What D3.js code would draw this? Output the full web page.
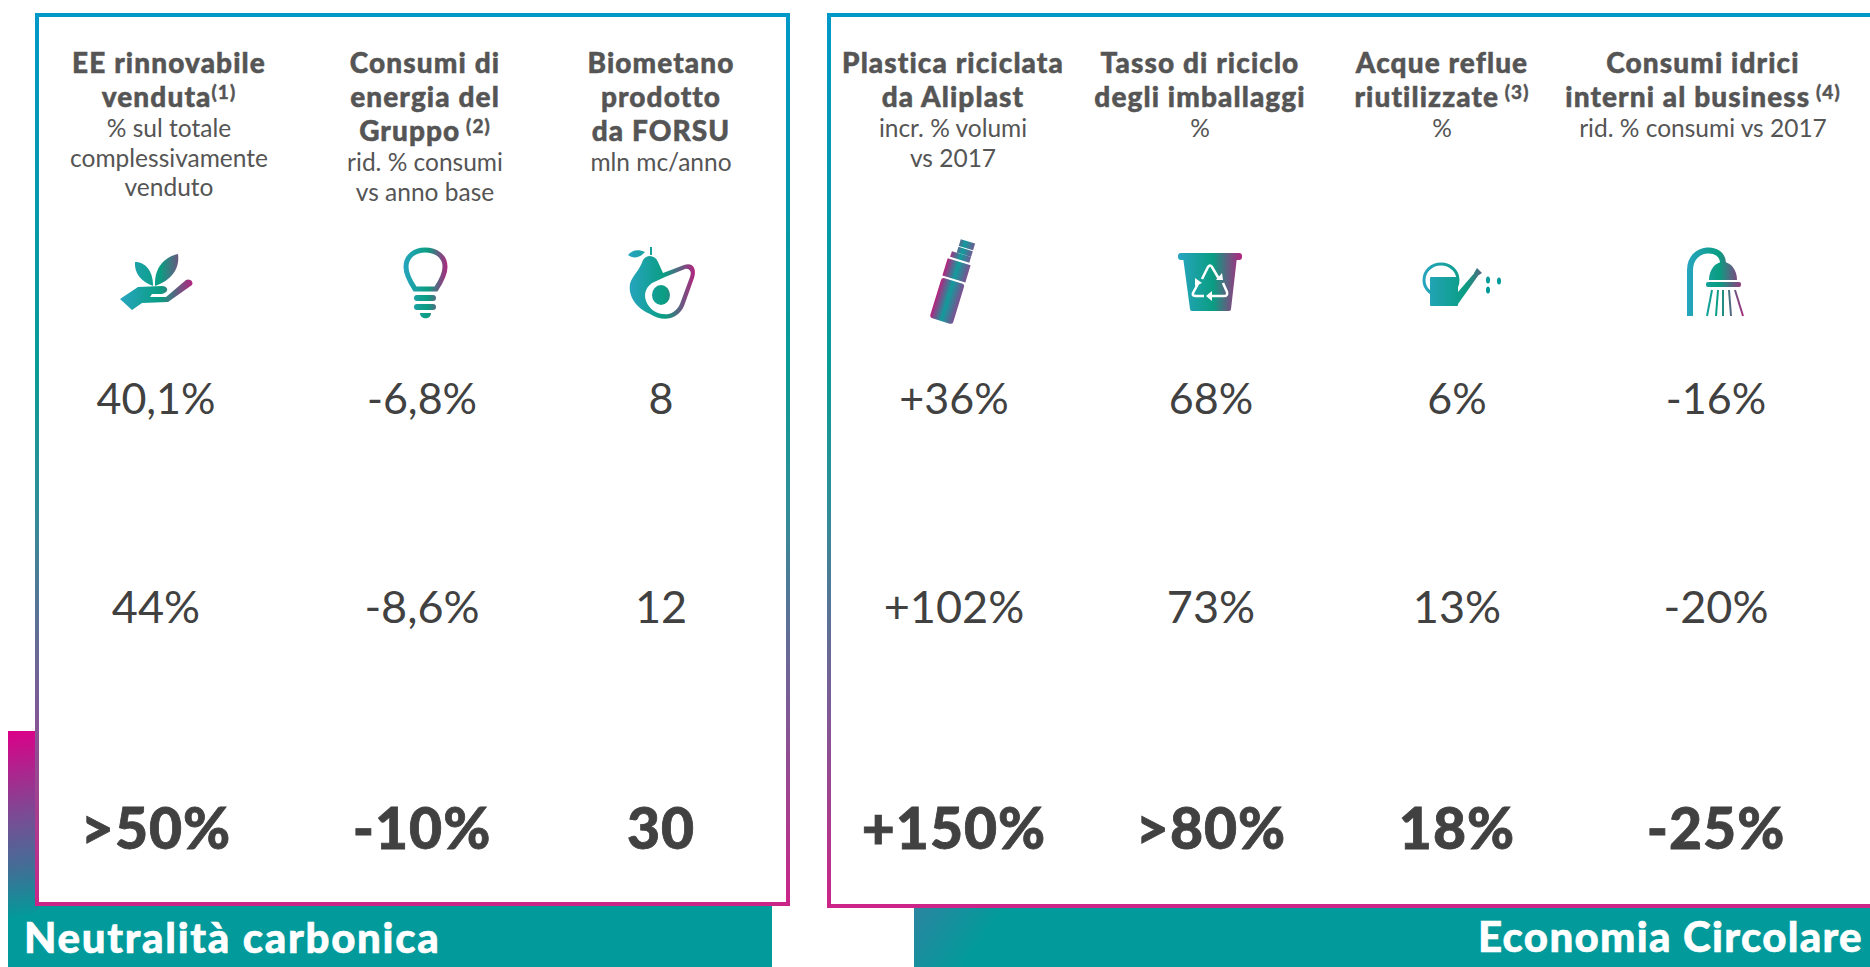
<!DOCTYPE html>
<html>
<head>
<meta charset="utf-8">
<script src="https://cdn.jsdelivr.net/npm/d3@7"></script>
<style>
body { margin: 0; background: #fff; }
text { font-family: Lato, sans-serif; }
</style>
</head>
<body>
<script>
// ---- data
const leftCols = ["rinnovabile", "consumi", "biometano"];
const leftTitles = [["EE rinnovabile", "venduta"], ["Consumi di", "energia del", "Gruppo"], ["Biometano", "prodotto", "da FORSU"]];
const leftNotes = ["(1)", " (2)", ""];
const leftUnits = [["% sul totale", "complessivamente", "venduto"], ["rid. % consumi", "vs anno base"], ["mln mc/anno"]];
const leftRow1 = ["40,1%", "-6,8%", "8"];
const leftRow2 = ["44%", "-8,6%", "12"];
const leftTarget = [">50%", "-10%", "30"];

const rightCols = ["plastica", "imballaggi", "reflue", "idrici"];
const rightTitles = [["Plastica riciclata", "da Aliplast"], ["Tasso di riciclo", "degli imballaggi"], ["Acque reflue", "riutilizzate"], ["Consumi idrici", "interni al business"]];
const rightNotes = ["", "", " (3)", " (4)"];
const rightUnits = [["incr. % volumi", "vs 2017"], ["%"], ["%"], ["rid. % consumi vs 2017"]];
const rightRow1 = ["+36%", "68%", "6%", "-16%"];
const rightRow2 = ["+102%", "73%", "13%", "-20%"];
const rightTarget = ["+150%", ">80%", "18%", "-25%"];

const leftName = "Neutralità carbonica";
const rightName = "Economia Circolare";

const width = 1870, height = 967;
const textColor = "#555", valueColor = "#414141", teal = "#029a9a";

let svg = d3.select("body").append("svg")
    .attr("width", width)
    .attr("height", height)
    .style("display", "block");
let defs = svg.append("defs");

function gradient(id, attrs, stops) {
    let g = defs.append("linearGradient").attr("id", id).attr("gradientUnits", "userSpaceOnUse");
    Object.entries(attrs).forEach(([k, v]) => g.attr(k, v));
    stops.forEach(s => g.append("stop").attr("offset", s[0]).attr("stop-color", s[1]));
}

gradient("border", {x1: 0, x2: 0, y1: 13, y2: 906}, [[0, "#0098c8"], [.4, "#0a9c96"], [.55, "#2f8f98"], [.78, "#7e5a95"], [1, "#cc2488"]]);
gradient("block", {x1: 8, x2: 36, y1: 731, y2: 915}, [[0, "#dc0088"], [.45, "#7c4a94"], [.75, "#3f7096"], [1, teal]]);
gradient("bandStart", {x1: 914, x2: 975, y1: 907, y2: 950}, [[0, "#2b85a0"], [1, teal]]);

// bands behind the panels
svg.append("rect").attr("x", 8).attr("y", 731).attr("width", 36).attr("height", 236).attr("fill", "url(#block)");
svg.append("rect").attr("x", 8).attr("y", 904).attr("width", 764).attr("height", 63).attr("fill", teal);
svg.append("rect").attr("x", 8).attr("y", 904).attr("width", 30).attr("height", 63).attr("fill", "url(#block)");
svg.append("rect").attr("x", 914).attr("y", 907).attr("width", 956).attr("height", 60).attr("fill", "url(#bandStart)");

// panels
svg.append("rect").attr("x", 37).attr("y", 15).attr("width", 751).attr("height", 889)
    .attr("fill", "#fff").attr("stroke", "url(#border)").attr("stroke-width", 4);
svg.append("rect").attr("x", 829).attr("y", 15).attr("width", 1100).attr("height", 891)
    .attr("fill", "#fff").attr("stroke", "url(#border)").attr("stroke-width", 4);

// band titles
svg.append("text").attr("x", 24).attr("y", 953).attr("fill", "#fff").attr("stroke", "#fff").attr("stroke-width", .6)
    .attr("font-size", 42).attr("font-weight", 900).attr("letter-spacing", 1.7).text(leftName);
svg.append("text").attr("x", 1478).attr("y", 952).attr("fill", "#fff").attr("stroke", "#fff").attr("stroke-width", .6)
    .attr("font-size", 42).attr("font-weight", 900).attr("letter-spacing", 1.3).text(rightName);

// rows
const y = d3.scaleOrdinal().domain(["row1", "row2", "target"]).range([414, 623, 849]);

function drawColumns(cols, titleXs, valueXs, titles, notes, units, row1, row2, target) {
    const xTitle = d3.scaleOrdinal().domain(cols).range(titleXs);
    const xValue = d3.scaleOrdinal().domain(cols).range(valueXs);
    let col = svg.append("g").selectAll("g")
        .data(cols)
        .join("g");

    col.each(function (d, i) {
        let g = d3.select(this);
        titles[i].forEach((line, j) => {
            let t = g.append("text").attr("x", xTitle(d)).attr("y", 73 + j * 34).attr("text-anchor", "middle")
                .attr("fill", textColor).attr("stroke", textColor).attr("stroke-width", .5)
                .attr("font-size", 28).attr("font-weight", 900)
                .attr("letter-spacing", 1.1).text(line);
            if (j === titles[i].length - 1 && notes[i]) {
                t.append("tspan").attr("dy", -8).attr("font-size", 19).attr("font-weight", 700).text(notes[i]);
            }
        });
        let top = 73 + (titles[i].length - 1) * 34 + 30;
        units[i].forEach((line, j) => {
            g.append("text").attr("x", xTitle(d)).attr("y", top + j * 29.5).attr("text-anchor", "middle")
                .attr("fill", textColor).attr("font-size", 24.5).attr("font-weight", 400).text(line);
        });
        g.append("text").attr("x", xValue(d)).attr("y", y("row1")).attr("text-anchor", "middle").attr("fill", valueColor)
            .attr("font-size", 43).attr("font-weight", 400).text(row1[i]);
        g.append("text").attr("x", xValue(d)).attr("y", y("row2")).attr("text-anchor", "middle").attr("fill", valueColor)
            .attr("font-size", 45).attr("font-weight", 400).text(row2[i]);
        g.append("text").attr("x", xValue(d)).attr("y", y("target")).attr("text-anchor", "middle").attr("fill", valueColor)
            .attr("stroke", valueColor).attr("stroke-width", .8)
            .attr("font-size", 57).attr("font-weight", 900).attr("letter-spacing", 1).text(target[i]);
    });
}

drawColumns(leftCols, [169, 425, 661], [156, 422, 661], leftTitles, leftNotes, leftUnits, leftRow1, leftRow2, leftTarget);
drawColumns(rightCols, [953, 1200, 1442, 1703], [954, 1211, 1457, 1716], rightTitles, rightNotes, rightUnits, rightRow1, rightRow2, rightTarget);

// ---- icons, drawn in their own small boxes
const iconStops = [[0, "#27a5c0"], [.55, "#0a9d82"], [1, "#b5237f"]];
function icon(id, px, py, w) {
    gradient(id, {x1: 0, x2: w, y1: 0, y2: 0}, iconStops);
    return svg.append("g").attr("transform", `translate(${px},${py})`).attr("fill", `url(#${id})`);
}

// hand with plant
let hand = icon("iHand", 120, 254, 73);
hand.append("path").attr("d", "M15 8C24 8 33 15 33 32C22 28 14 20 15 8Z");
hand.append("path").attr("d", "M58 0C60 14 52 26 35 32C34 14 44 3 58 0Z");
hand.append("path").attr("d", "M0 45L18 33L42 32C48 32 50 38 42 40L32 40L30 43L46 43L66 26C70 24 74 28 72 31L48 48L22 49L12 56Z");

// light bulb
let bulb = icon("iBulb", 403, 247, 45);
bulb.append("path").attr("d", "M12 42C6 33 3 27 3 20C3 9 12 3 22 3C33 3 42 9 42 20C42 27 39 33 33 42Z")
    .attr("fill", "none").attr("stroke", "url(#iBulb)").attr("stroke-width", 5);
bulb.append("rect").attr("x", 11).attr("y", 48).attr("width", 22).attr("height", 6).attr("rx", 3);
bulb.append("rect").attr("x", 11).attr("y", 57).attr("width", 22).attr("height", 6).attr("rx", 3);
bulb.append("path").attr("d", "M17 66H28C28 73 17 73 17 66Z");

// avocado
let avocado = icon("iAvocado", 628, 246, 67);
avocado.append("path").attr("d", "M0 9C4 4 10 3 17 6C12 12 5 13 0 9Z");
avocado.append("path").attr("d", "M22 1L24 1L24 9L22 9Z");
avocado.append("path").attr("d", "M15 14C19 8 27 9 30 16L35 27L56 19C65 16 69 23 66 32L56 60C50 74 34 76 22 68C8 62 0 50 2 38C4 30 12 24 15 14Z");
avocado.append("path").attr("d", "M37 31L57 23C62 22 64 26 62 31L52 58C47 69 36 71 26 65C15 57 14 44 24 37Z").attr("fill", "#fff");
avocado.append("ellipse").attr("cx", 33).attr("cy", 49).attr("rx", 9).attr("ry", 10);

// bottle, leaning to the right
gradient("iBottle", {x1: -12, x2: 12, y1: 0, y2: 0}, [[0, "#b5237f"], [.5, "#119c9c"], [1, "#7d4f90"]]);
let bottle = svg.append("g").attr("transform", "translate(941,321) rotate(17)").attr("fill", "url(#iBottle)");
bottle.append("rect").attr("x", -12).attr("y", -42).attr("width", 24).attr("height", 42).attr("rx", 3);
bottle.append("rect").attr("x", -12).attr("y", -62).attr("width", 24).attr("height", 18);
bottle.append("rect").attr("x", -10).attr("y", -70).attr("width", 20).attr("height", 6);
bottle.append("rect").attr("x", -5).attr("y", -76).attr("width", 15).attr("height", 6);
bottle.append("rect").attr("x", -5).attr("y", -84).attr("width", 15).attr("height", 7);

// recycling bin
let bin = icon("iBin", 1178, 253, 64);
bin.append("rect").attr("width", 64).attr("height", 7).attr("rx", 3);
bin.append("path").attr("d", "M5 4H59L53 56Q53 58 51 58H14Q12 58 12 56Z");
let arrows = bin.append("g").attr("fill", "none").attr("stroke", "#fff").attr("stroke-width", 2.5);
arrows.append("path").attr("d", "M24 26L30 14Q32 11 34 14L41 26");
arrows.append("path").attr("d", "M21 29L15 40Q14 43 18 43H26");
arrows.append("path").attr("d", "M45 30L49 39Q50 43 46 43H34");
let tips = bin.append("g").attr("fill", "#fff");
tips.append("path").attr("d", "M38 27L45 27L44 20Z");
tips.append("path").attr("d", "M17 25L24 30L17 33Z");
tips.append("path").attr("d", "M34 38V48L28 43Z");

// watering can
let can = icon("iCan", 1422, 262, 80);
can.append("ellipse").attr("cx", 19).attr("cy", 18).attr("rx", 17).attr("ry", 16)
    .attr("fill", "none").attr("stroke", "url(#iCan)").attr("stroke-width", 3);
can.append("rect").attr("x", 8).attr("y", 15).attr("width", 28).attr("height", 29).attr("rx", 1);
can.append("path").attr("d", "M36 30L55 8L58 11L36 42Z");
can.append("path").attr("d", "M52 11L55 6L60 11L57 13Z");
can.append("g").attr("fill", teal).selectAll("ellipse")
    .data([[66, 18], [77, 19], [66, 28]])
    .join("ellipse")
    .attr("cx", d => d[0]).attr("cy", d => d[1]).attr("rx", 2).attr("ry", 3.5);

// shower
let shower = icon("iShower", 1687, 248, 59);
shower.append("path").attr("d", "M3 68V22C3 -3 37 -3 36 16").attr("fill", "none")
    .attr("stroke", "url(#iShower)").attr("stroke-width", 6);
shower.append("path").attr("d", "M22 32C22 22 28 14 36 14C44 14 50 22 50 32Z");
shower.append("rect").attr("x", 19).attr("y", 34).attr("width", 35).attr("height", 5).attr("rx", 2);
shower.append("g").attr("fill", "none").attr("stroke", "url(#iShower)").attr("stroke-width", 2)
    .selectAll("path")
    .data(["M25 42L20 68", "M31 42L29 68", "M36 42V68", "M42 42L44 68", "M48 42L56 68"])
    .join("path")
    .attr("d", d => d);
</script>
</body>
</html>
